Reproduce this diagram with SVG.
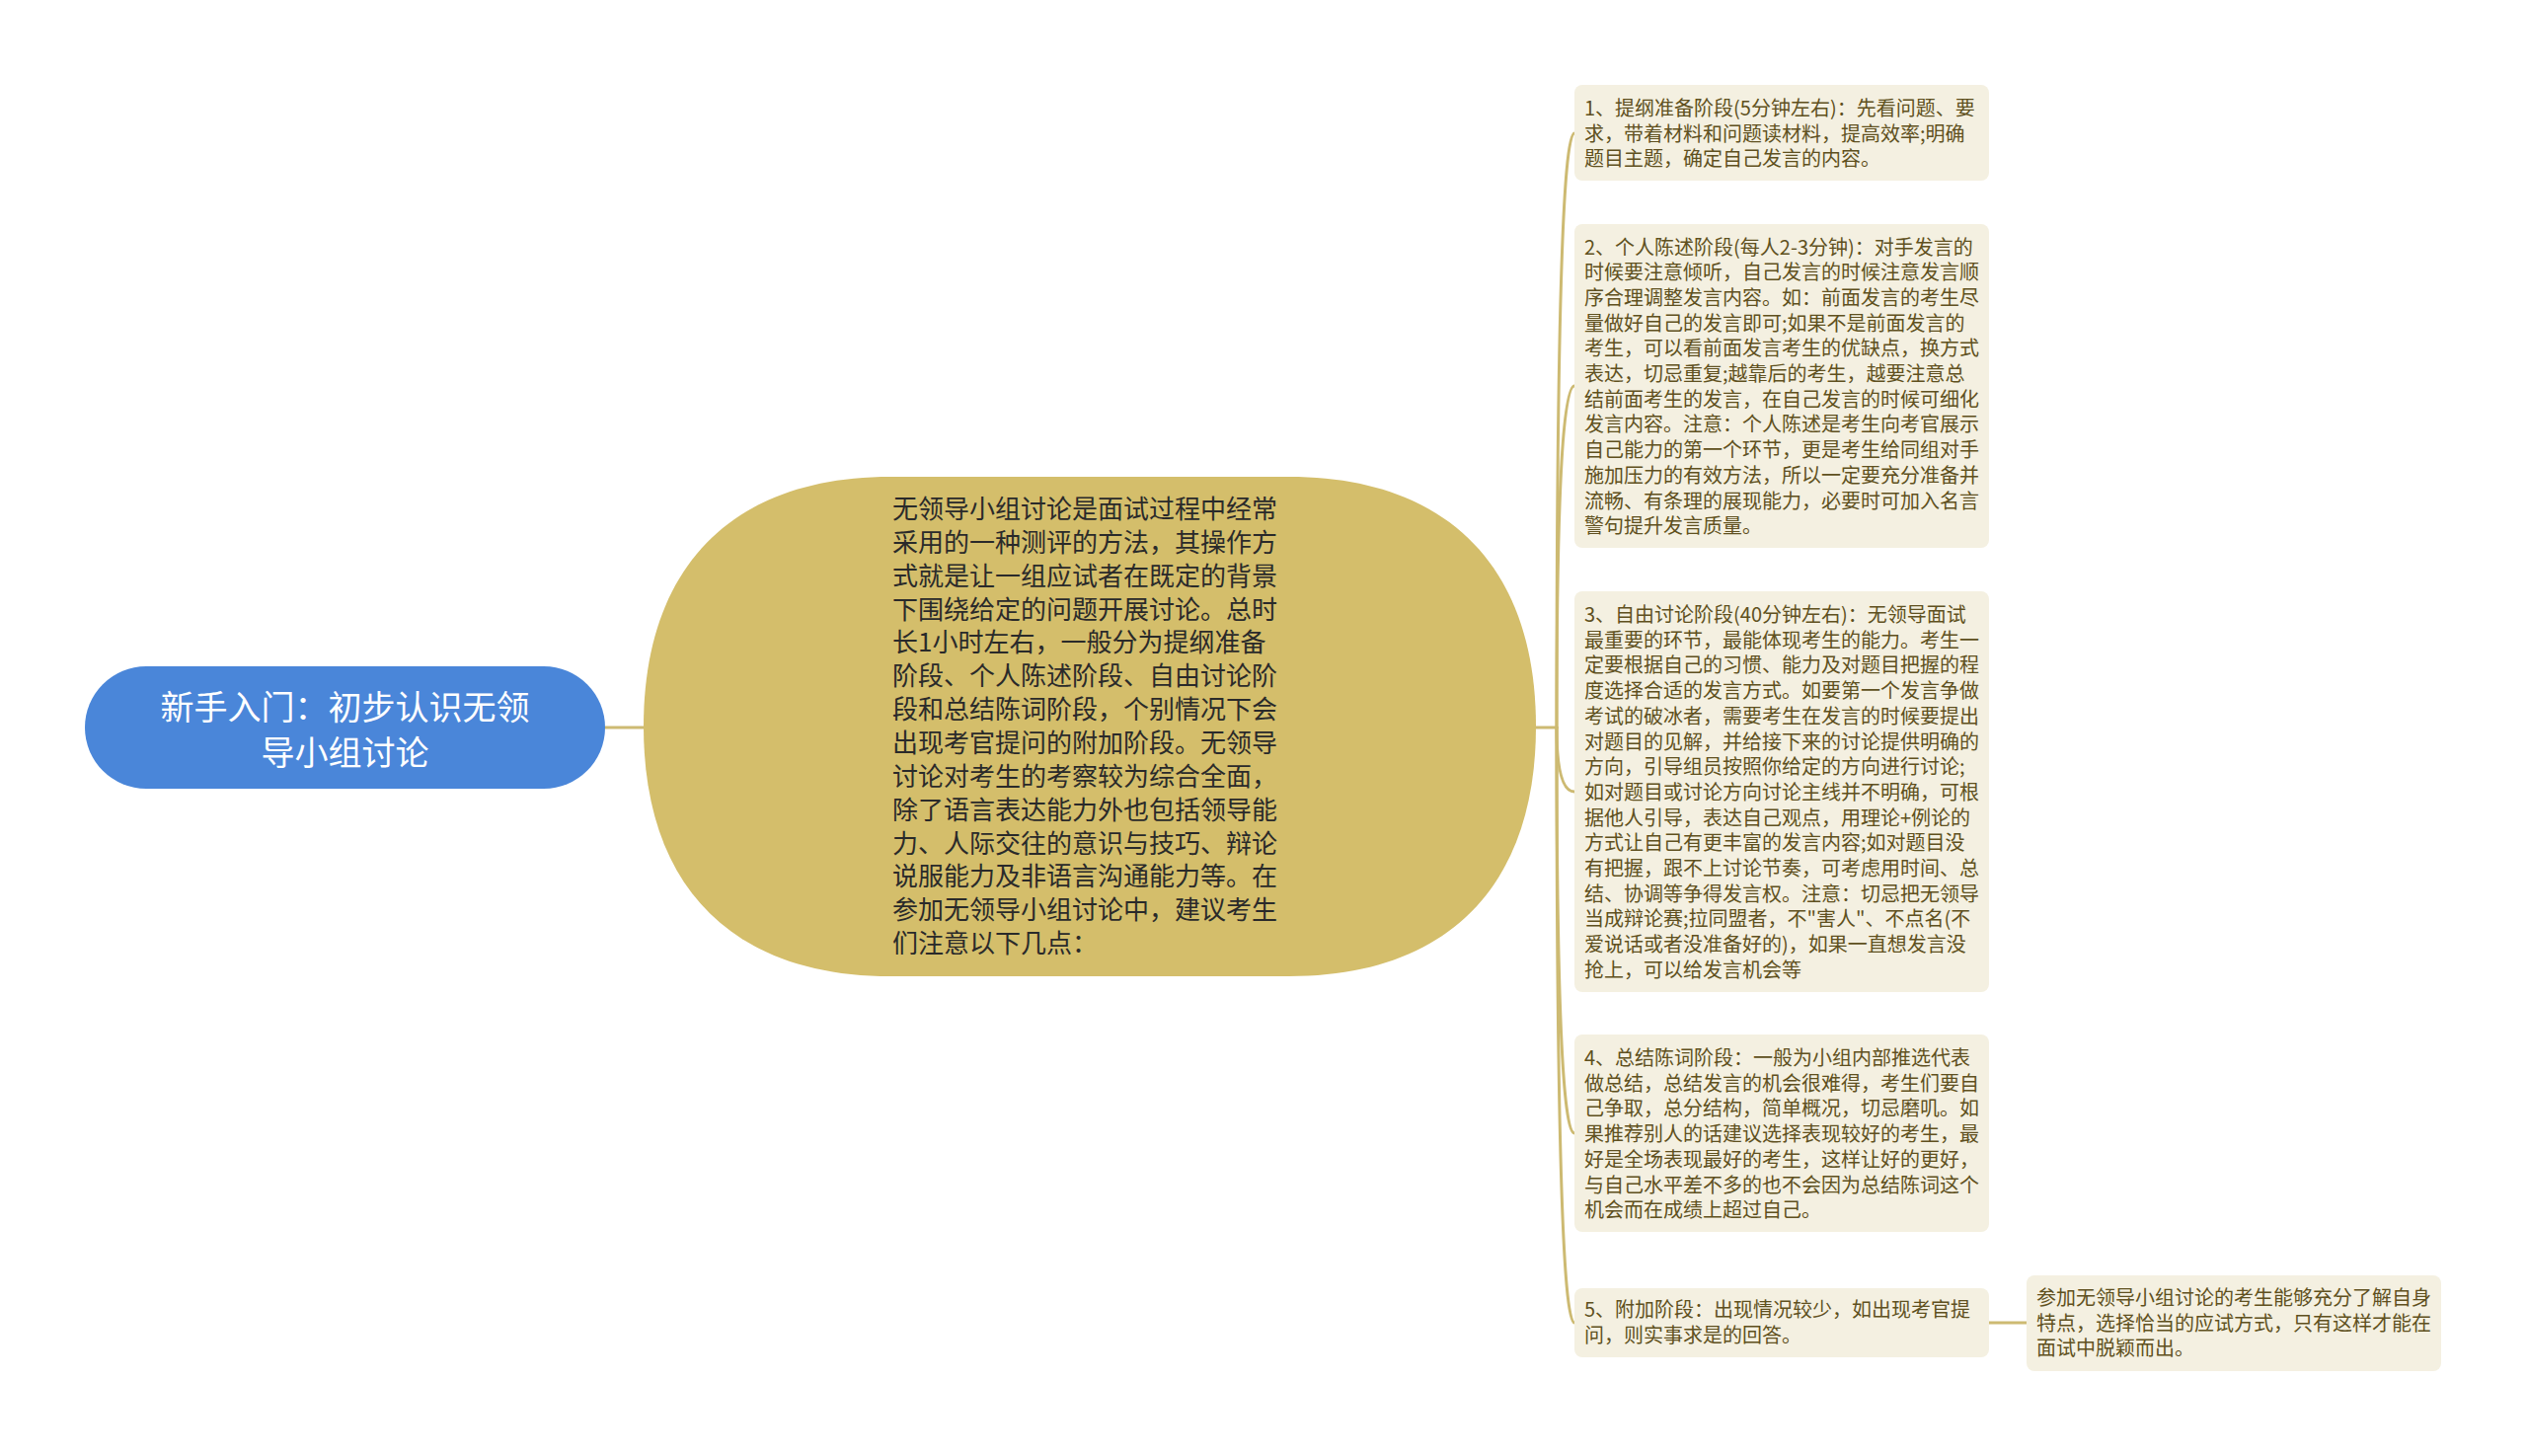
<svg xmlns="http://www.w3.org/2000/svg" width="2560" height="1475" viewBox="0 0 2560 1475">
<style>
text{font-family:"Noto Sans CJK SC","Noto Sans",sans-serif;}
.conn{fill:none;stroke:#CDBA72;stroke-width:3;stroke-linecap:round;}
.root-shape{fill:#4A86D9;}
.root-text{fill:#FFFFFF;font-size:34px;text-anchor:middle;}
.main-shape{fill:#D4BE6B;}
.main-text{fill:#2A2A2A;font-size:26px;}
.leaf-shape{fill:#F4F0E1;}
.leaf-text{fill:#5F5020;font-size:20px;}
</style>
<rect x="0" y="0" width="2560" height="1475" fill="#FFFFFF"/>
<g id="connectors">
<path class="conn" d="M 613 737 L 652 737"/>
<path class="conn" d="M 1556 737 L 1577 737"/>
<path class="conn" d="M 1577 737 Q 1577 135 1595 135"/>
<path class="conn" d="M 1577 737 Q 1577 391 1595 391"/>
<path class="conn" d="M 1577 737 Q 1577 802 1595 802"/>
<path class="conn" d="M 1577 737 Q 1577 1148 1595 1148"/>
<path class="conn" d="M 1577 737 Q 1577 1340 1595 1340"/>
<path class="conn" d="M 2015 1340 L 2053 1340"/>
</g>
<g id="root">
<rect class="root-shape" x="86" y="675" width="527" height="124" rx="62" ry="62"/>
<text class="root-text" x="349.5" y="729">新手入门：初步认识无领</text>
<text class="root-text" x="349.5" y="775">导小组讨论</text>
</g>
<g id="main">
<path class="main-shape" d="M 902 483 L 1306 483 C 1466 483 1556 574 1556 736 C 1556 898 1466 989 1306 989 L 902 989 C 742 989 652 898 652 736 C 652 574 742 483 902 483 Z"/>
<text class="main-text" x="904" y="525">无领导小组讨论是面试过程中经常</text>
<text class="main-text" x="904" y="558.9">采用的一种测评的方法，其操作方</text>
<text class="main-text" x="904" y="592.7">式就是让一组应试者在既定的背景</text>
<text class="main-text" x="904" y="626.6">下围绕给定的问题开展讨论。总时</text>
<text class="main-text" x="904" y="660.4">长1小时左右，一般分为提纲准备</text>
<text class="main-text" x="904" y="694.3">阶段、个人陈述阶段、自由讨论阶</text>
<text class="main-text" x="904" y="728.1">段和总结陈词阶段，个别情况下会</text>
<text class="main-text" x="904" y="762">出现考官提问的附加阶段。无领导</text>
<text class="main-text" x="904" y="795.8">讨论对考生的考察较为综合全面，</text>
<text class="main-text" x="904" y="829.7">除了语言表达能力外也包括领导能</text>
<text class="main-text" x="904" y="863.5">力、人际交往的意识与技巧、辩论</text>
<text class="main-text" x="904" y="897.4">说服能力及非语言沟通能力等。在</text>
<text class="main-text" x="904" y="931.2">参加无领导小组讨论中，建议考生</text>
<text class="main-text" x="904" y="965.1">们注意以下几点：</text>
</g>
<g id="stage1">
<rect class="leaf-shape" x="1595" y="86" width="420" height="97" rx="8" ry="8"/>
<text class="leaf-text" x="1605" y="117">1、提纲准备阶段(5分钟左右)：先看问题、要</text>
<text class="leaf-text" x="1605" y="142.7">求，带着材料和问题读材料，提高效率;明确</text>
<text class="leaf-text" x="1605" y="168.4">题目主题，确定自己发言的内容。</text>
</g>
<g id="stage2">
<rect class="leaf-shape" x="1595" y="227" width="420" height="328" rx="8" ry="8"/>
<text class="leaf-text" x="1605" y="257.5">2、个人陈述阶段(每人2-3分钟)：对手发言的</text>
<text class="leaf-text" x="1605" y="283.2">时候要注意倾听，自己发言的时候注意发言顺</text>
<text class="leaf-text" x="1605" y="308.9">序合理调整发言内容。如：前面发言的考生尽</text>
<text class="leaf-text" x="1605" y="334.6">量做好自己的发言即可;如果不是前面发言的</text>
<text class="leaf-text" x="1605" y="360.3">考生，可以看前面发言考生的优缺点，换方式</text>
<text class="leaf-text" x="1605" y="386">表达，切忌重复;越靠后的考生，越要注意总</text>
<text class="leaf-text" x="1605" y="411.7">结前面考生的发言，在自己发言的时候可细化</text>
<text class="leaf-text" x="1605" y="437.4">发言内容。注意：个人陈述是考生向考官展示</text>
<text class="leaf-text" x="1605" y="463.1">自己能力的第一个环节，更是考生给同组对手</text>
<text class="leaf-text" x="1605" y="488.8">施加压力的有效方法，所以一定要充分准备并</text>
<text class="leaf-text" x="1605" y="514.5">流畅、有条理的展现能力，必要时可加入名言</text>
<text class="leaf-text" x="1605" y="540.2">警句提升发言质量。</text>
</g>
<g id="stage3">
<rect class="leaf-shape" x="1595" y="599" width="420" height="406" rx="8" ry="8"/>
<text class="leaf-text" x="1605" y="630">3、自由讨论阶段(40分钟左右)：无领导面试</text>
<text class="leaf-text" x="1605" y="655.7">最重要的环节，最能体现考生的能力。考生一</text>
<text class="leaf-text" x="1605" y="681.4">定要根据自己的习惯、能力及对题目把握的程</text>
<text class="leaf-text" x="1605" y="707.1">度选择合适的发言方式。如要第一个发言争做</text>
<text class="leaf-text" x="1605" y="732.8">考试的破冰者，需要考生在发言的时候要提出</text>
<text class="leaf-text" x="1605" y="758.5">对题目的见解，并给接下来的讨论提供明确的</text>
<text class="leaf-text" x="1605" y="784.2">方向，引导组员按照你给定的方向进行讨论;</text>
<text class="leaf-text" x="1605" y="809.9">如对题目或讨论方向讨论主线并不明确，可根</text>
<text class="leaf-text" x="1605" y="835.6">据他人引导，表达自己观点，用理论+例论的</text>
<text class="leaf-text" x="1605" y="861.3">方式让自己有更丰富的发言内容;如对题目没</text>
<text class="leaf-text" x="1605" y="887">有把握，跟不上讨论节奏，可考虑用时间、总</text>
<text class="leaf-text" x="1605" y="912.7">结、协调等争得发言权。注意：切忌把无领导</text>
<text class="leaf-text" x="1605" y="938.4">当成辩论赛;拉同盟者，不"害人"、不点名(不</text>
<text class="leaf-text" x="1605" y="964.1">爱说话或者没准备好的)，如果一直想发言没</text>
<text class="leaf-text" x="1605" y="989.8">抢上，可以给发言机会等</text>
</g>
<g id="stage4">
<rect class="leaf-shape" x="1595" y="1048" width="420" height="200" rx="8" ry="8"/>
<text class="leaf-text" x="1605" y="1079">4、总结陈词阶段：一般为小组内部推选代表</text>
<text class="leaf-text" x="1605" y="1104.7">做总结，总结发言的机会很难得，考生们要自</text>
<text class="leaf-text" x="1605" y="1130.4">己争取，总分结构，简单概况，切忌磨叽。如</text>
<text class="leaf-text" x="1605" y="1156.1">果推荐别人的话建议选择表现较好的考生，最</text>
<text class="leaf-text" x="1605" y="1181.8">好是全场表现最好的考生，这样让好的更好，</text>
<text class="leaf-text" x="1605" y="1207.5">与自己水平差不多的也不会因为总结陈词这个</text>
<text class="leaf-text" x="1605" y="1233.2">机会而在成绩上超过自己。</text>
</g>
<g id="stage5">
<rect class="leaf-shape" x="1595" y="1305" width="420" height="70" rx="8" ry="8"/>
<text class="leaf-text" x="1605" y="1334">5、附加阶段：出现情况较少，如出现考官提</text>
<text class="leaf-text" x="1605" y="1359.7">问，则实事求是的回答。</text>
</g>
<g id="conclusion">
<rect class="leaf-shape" x="2053" y="1292" width="420" height="97" rx="8" ry="8"/>
<text class="leaf-text" x="2063" y="1322">参加无领导小组讨论的考生能够充分了解自身</text>
<text class="leaf-text" x="2063" y="1347.7">特点，选择恰当的应试方式，只有这样才能在</text>
<text class="leaf-text" x="2063" y="1373.4">面试中脱颖而出。</text>
</g>
</svg>
